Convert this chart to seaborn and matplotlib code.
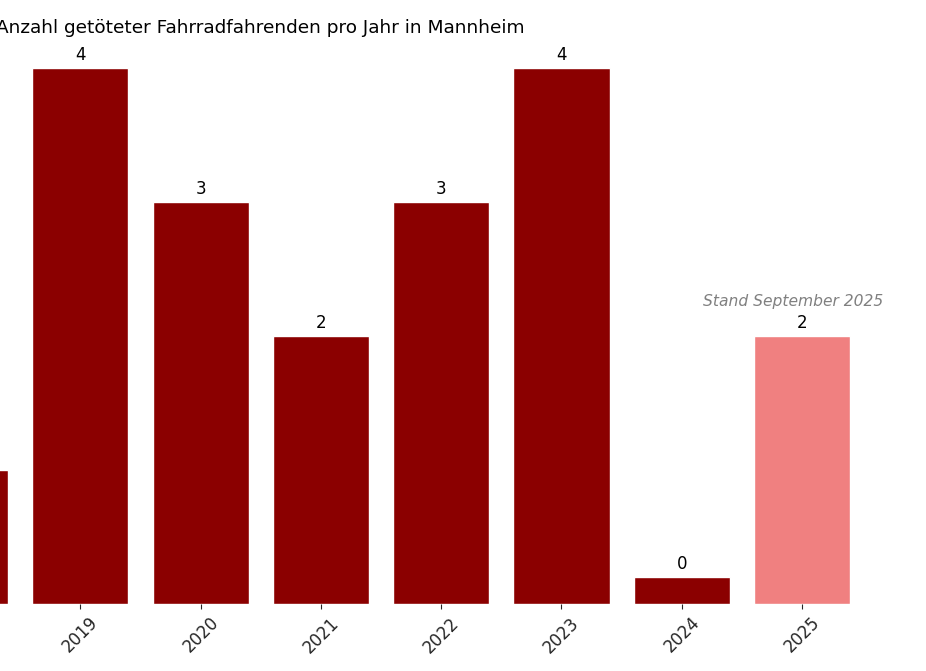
import numpy as np
import seaborn as sns
import matplotlib.pyplot as plt

years = ['2018', '2019', '2020', '2021', '2022', '2023', '2024', '2025']
deaths = [1, 4, 3, 2, 3, 4, 0, 2]
bar_colors = ['#8B0000'] * 7 + ['#F08080']
title = 'Anzahl getöteter Fahrradfahrenden pro Jahr in Mannheim'
note = 'Stand September 2025'

sns.set_style('ticks')
plt.rcParams['font.family'] = ['DejaVu Sans']

# zero years get a small stub so they stay visible
heights = [max(v, 0.2) for v in deaths]

fig = plt.figure(figsize=(9.26, 6.71), dpi=100)
ax = fig.add_axes([-0.108, 0.0999, 1.039, 0.839])
sns.barplot(x=years, y=heights, hue=years, palette=bar_colors, saturation=1,
            legend=False, ax=ax)

for bar, v in zip(ax.patches, deaths):
    ax.annotate(str(v), (bar.get_x() + bar.get_width() / 2, bar.get_height()),
                xytext=(0, 3), textcoords='offset points', ha='center', va='bottom',
                fontsize=12, color='black')

ax.text(6.93, 2.26, note, ha='center', va='center', fontsize=11.2, style='italic', color='gray')

ax.set_xlim(-0.5, 7.5)
ax.set_ylim(0, 4.2)
ax.set_title(title, fontsize=13.3, x=0.375, color='black')
ax.set_yticks([])
ax.set_xlabel('')
ax.set_ylabel('')
plt.xticks(rotation=45, fontsize=12)
sns.despine(left=True, bottom=True)

plt.savefig('out.png', dpi=100)
